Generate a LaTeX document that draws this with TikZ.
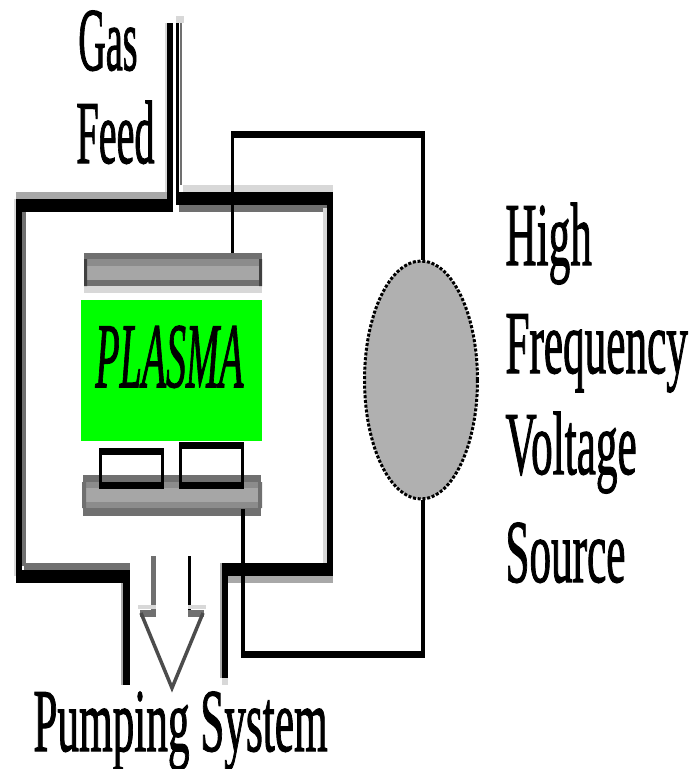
\documentclass[tikz,border=0pt]{standalone}
\usepackage{fontspec}
\setmainfont[FakeBold=1.6,ItalicFeatures={FakeBold=1.6}]{Liberation Serif}
\usetikzlibrary{positioning}
\usetikzlibrary{shapes.geometric}
\definecolor{wallshade}{HTML}{A8A8A8}
\definecolor{wallpale}{HTML}{D8D8D8}
\definecolor{wallgray}{HTML}{707070}
\definecolor{platefill}{HTML}{A6A6A6}
\definecolor{platemid}{HTML}{8C8C8C}
\definecolor{sourcefill}{HTML}{B0B0B0}
\tikzset{
  wallh/.style={black, line width=0.26cm},
  wallv/.style={black, line width=0.13cm},
  shadeh/.style={line width=0.14cm},
  shadev/.style={line width=0.08cm},
  edgev/.style={line width=0.04cm},
  wire/.style={black, line width=0.07cm},
  wirerun/.style={black, line width=0.14cm},
  plate/.style={fill=platemid, minimum width=3.56cm, inner sep=0pt},
  sample/.style={draw=black, line width=0.06cm, minimum width=1.24cm, inner sep=0pt},
  sampleedge/.style={black, line width=0.13cm},
  label/.style={font=\fontsize{20}{20}\selectfont, inner sep=0pt, anchor=base west, xscale=1.23, yscale=2.55, text=black},
}
\begin{document}
\begin{tikzpicture}[x=0.02cm, y=-0.02cm]
\useasboundingbox (0,0) rectangle (693,769);

% gas tube
\draw[edgev, wallpale] (166,23)--++(0,170);
\draw[wallv] (170,23)--++(0,182);
\draw[line width=0.16cm, wallpale] (180,16)--++(0,7);
\draw[edgev, wallgray] (181,23)--++(0,162);
\draw[shadev, black] (177.5,23)--++(0,175);

% chamber shading
\draw[shadeh, wallshade] (16,195.5)--(167,195.5);
\draw[shadeh, wallpale] (183,188.5)--(333,188.5);
\draw[shadeh, wallgray] (179,208.5)--(327,208.5);
\draw[shadeh, wallgray] (24,566.5)--(130,566.5);
\draw[shadeh, wallshade] (228,579.5)--(333,579.5);
\draw[edgev, wallpale] (15,199)--(15,576);
\draw[shadev, wallgray] (24,212)--(24,566);
\draw[shadev, wallpale] (325,208)--(325,563);
\draw[edgev, wallshade] (122,583)--(122,685);
\draw[edgev, wallshade] (221,563)--(221,678);

% chamber walls
\draw[wallh] (173,205.5)--(16,205.5);
\draw[wallh] (176,198.5)--(333,198.5);
\draw[wallh] (16,576.5)--(130,576.5);
\draw[wallh] (222,569.5)--(333,569.5);
\draw[wallv] (19,199)--(19,583);
\draw[wallv] (330,192)--(330,576);
\draw[wallv] (126.5,570)--(126.5,685);
\draw[wallv] (225,563)--(225,678);
\draw[line width=0.13cm, wallpale] (225,678)--(225,685);

% plates
\node[plate, minimum height=0.66cm] (upperplate) at (173,269.5) {};
\fill[wallgray] (upperplate.north west) rectangle ++(178,6);
\fill[platefill] (87,266) rectangle (259,280);
\fill[wallgray] (84,280) rectangle (262,286);
\fill[wallpale] (84,286) rectangle (262,293);
\fill[black!75] (84,259) rectangle (87,286) (259,259) rectangle (262,286);
\node[plate, minimum height=0.82cm] (lowerplate) at (172,495.5) {};
\fill[wallgray] (lowerplate.north west) rectangle ++(178,7);
\fill[platefill] (86,488) rectangle (258,502);
\fill[wallgray] (lowerplate.south west) rectangle ++(178,-8);
\fill[wallgray] (82,482) rectangle (86,508) (258,482) rectangle (262,508);

% plasma
\node[fill=green, minimum width=3.62cm, minimum height=2.82cm, inner sep=0pt] (plasma) at (171.5,370.5) {};
\node[label, font=\fontsize{20}{20}\itshape\selectfont, xscale=0.92, yscale=1.03] (plasmatext) at (95,387) {PLASMA};

% samples
\node[sample, minimum height=0.76cm] (sampleone) at (131.5,468.5) {};
\node[sample, minimum height=0.88cm] (sampletwo) at (211.5,465.5) {};
\draw[sampleedge] (sampleone.north west)++(0,3.5)--++(65,0);
\draw[sampleedge] (sampleone.south west)++(0,-3.5)--++(65,0);
\draw[sampleedge] (sampletwo.north west)++(0,3.5)--++(65,0);
\draw[sampleedge] (sampletwo.south west)++(0,-3.5)--++(65,0);

% voltage source
\node[ellipse, draw=black, densely dotted, line width=0.06cm, fill=sourcefill, minimum width=2.26cm, minimum height=4.76cm, inner sep=0pt] (source) at (421,380) {};

% wiring
\coordinate (wiretop) at (232.5,134.5);
\coordinate (wireside) at (423,134.5);
\coordinate (wirebottom) at (243,654.5);
\draw[wire] (upperplate.north -| wiretop)--(wiretop);
\draw[wirerun] (231,134.5)--(425,134.5);
\draw[wire] (wireside)--(wireside |- source.north);
\draw[wire] (243,509)--(wirebottom);
\draw[wirerun] (241,654.5)--(425,654.5);
\draw[wire] (wireside |- wirebottom)--(wireside |- source.south);

% pumping arrow
\draw[line width=0.1cm, wallgray] (153.5,556)--(153.5,613);
\draw[line width=0.07cm, black] (189.5,556)--(189.5,613);
\draw[line width=0.07cm, wallpale] (138,607)--(156,607);
\draw[line width=0.07cm, wallpale] (188,607)--(206,607);
\draw[shadeh, wallgray] (140,613.5)--(156,613.5);
\draw[shadeh, wallgray] (188,613.5)--(204,613.5);
\draw[line width=0.07cm, black!70] (141,613)--(172,688)--(203,613);

% labels
\node[label, xscale=0.88] (gas) at (78,70) {Gas};
\node[label, xscale=0.93] (feed) at (76,163) {Feed};
\node[label] (high) at (505,265) {High};
\node[label] (frequency) at (505,373) {Frequency};
\node[label] (voltage) at (505,474) {Voltage};
\node[label] (sourcetext) at (505,582) {Source};
\node[label] (pumping) at (33,751) {Pumping System};

\end{tikzpicture}
\end{document}
